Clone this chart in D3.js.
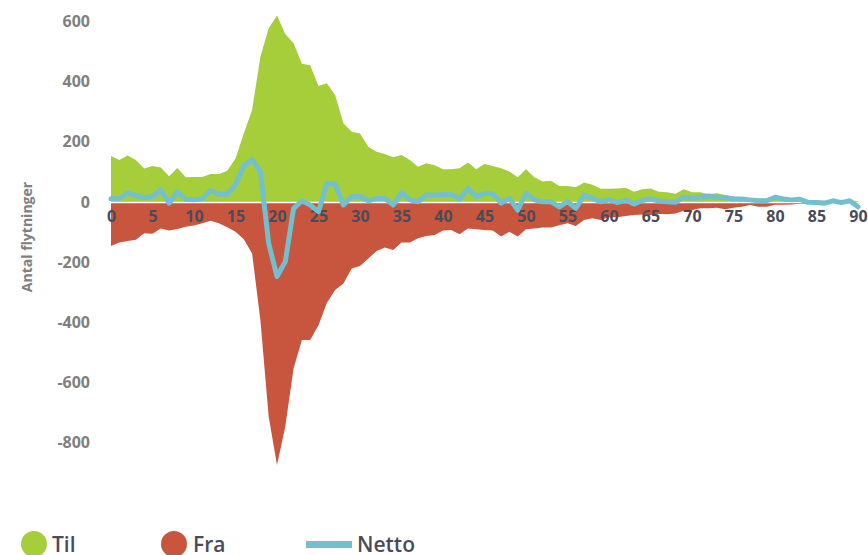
<!DOCTYPE html>
<html>
<head>
<meta charset="utf-8">
<script src="https://cdn.jsdelivr.net/npm/d3@7"></script>
<style>
  html, body { margin: 0; padding: 0; background: #ffffff; }
  svg { display: block; }
  text { font-family: "Open Sans", "Noto Sans", sans-serif; }
</style>
</head>
<body>
<svg id="chart" width="868" height="555"></svg>
<script>
const ages = d3.range(0, 91);
const til = [153,140,155,140,111,120,115,86,113,82,83,83,93,93,104,145,228,306,483,578,620,559,528,460,455,386,395,356,262,234,228,184,167,160,149,156,140,117,129,122,109,109,112,131,109,126,120,112,101,82,109,82,68,71,53,53,49,65,57,44,44,45,47,34,42,45,34,32,27,42,32,32,26,29,23,18,16,12,12,10,14,10,10,12,6,5,4,6,4,6,3];
const fra = [-146,-135,-130,-126,-104,-106,-88,-95,-90,-82,-78,-71,-62,-71,-84,-99,-124,-171,-393,-714,-875,-747,-553,-459,-459,-410,-336,-293,-271,-221,-213,-188,-163,-151,-160,-135,-135,-121,-113,-110,-95,-93,-107,-88,-91,-93,-95,-115,-99,-115,-91,-88,-85,-85,-77,-71,-80,-60,-54,-60,-51,-51,-47,-43,-42,-43,-40,-41,-38,-29,-27,-21,-21,-19,-24,-19,-16,-10,-16,-16,-9,-9,-8,-6,-6,-5,-5,-3,-4,-3,-4];
const netto = [11,11,31,21,14,18,40,-4,34,9,7,11,38,26,26,57,121,140,101,-138,-248,-198,-21,4,-10,-32,62,60,-10,18,18,4,12,12,-10,31,7,1,23,23,25,25,10,45,18,29,27,-4,12,-27,29,7,1,1,-16,1,-21,23,12,1,7,-2,7,-7,5,10,3,1,-1,16,12,16,20,16,14,10,10,7,4,4,16,10,7,9,-1,-2,-4,4,-2,4,-16];
const xTicks = d3.range(0, 91, 5);
const yTicks = [600, 400, 200, 0, -200, -400, -600, -800];
const seriesNames = ["Til", "Fra", "Netto"];
const colors = { Til: "#a6cd3a", Fra: "#c8553e", Netto: "#72bfce" };

const svg = d3.select("#chart");
const x = d3.scaleLinear().domain([0, 90]).range([111, 858]);
const y = d3.scaleLinear().domain([-800, 600]).range([442.5, 21.6]);

// areas
const area = d3.area().x((d, i) => x(ages[i])).y0(y(0)).y1(d => y(d));
svg.append("path").datum(til).attr("d", area).attr("fill", colors.Til);
svg.append("path").datum(fra).attr("d", area).attr("fill", colors.Fra);

// white zero line
svg.append("line")
  .attr("x1", x(0)).attr("x2", x(90))
  .attr("y1", y(0) + 0.5).attr("y2", y(0) + 0.5)
  .attr("stroke", "#ffffff").attr("stroke-width", 1.5);

// x axis tick labels
const xAxis = d3.axisBottom(x).tickValues(xTicks).tickSize(0).tickPadding(0);
const gx = svg.append("g").attr("transform", `translate(0,${y(0) + 15})`).call(xAxis);
gx.select(".domain").remove();
gx.selectAll("text")
  .attr("dy", "0.32em")
  .attr("font-family", "'Open Sans', sans-serif")
  .attr("font-size", 16).attr("font-weight", 700).attr("fill", "#4b4b58");

// netto line
const line = d3.line().x((d, i) => x(ages[i])).y(d => y(d));
svg.append("path").datum(netto).attr("d", line)
  .attr("fill", "none").attr("stroke", colors.Netto)
  .attr("stroke-width", 5).attr("stroke-linejoin", "round").attr("stroke-linecap", "round");

// y axis tick labels
const yAxis = d3.axisLeft(y).tickValues(yTicks).tickSize(0).tickPadding(0).tickFormat(d => String(d));
const gy = svg.append("g").attr("transform", "translate(90,0)").call(yAxis);
gy.select(".domain").remove();
gy.selectAll("text")
  .attr("font-family", "'Open Sans', sans-serif")
  .attr("font-size", 16).attr("font-weight", 700).attr("fill", "#808080");

// y axis title
svg.append("text")
  .attr("transform", "translate(32,237) rotate(-90)")
  .attr("text-anchor", "middle")
  .attr("font-size", 14).attr("font-weight", 700).attr("fill", "#808080")
  .text("Antal flytninger");

// legend
const lg = svg.append("g");
lg.append("circle").attr("cx", 34).attr("cy", 544).attr("r", 13).attr("fill", colors.Til);
lg.append("text").attr("x", 52).attr("y", 552).text(seriesNames[0]);
lg.append("circle").attr("cx", 174).attr("cy", 544).attr("r", 13).attr("fill", colors.Fra);
lg.append("text").attr("x", 193).attr("y", 552).text(seriesNames[1]);
lg.append("rect").attr("x", 306).attr("y", 541).attr("width", 46).attr("height", 7).attr("fill", colors.Netto);
lg.append("text").attr("x", 357).attr("y", 552).text(seriesNames[2]);
lg.selectAll("text").attr("font-size", 21).attr("font-weight", 600).attr("fill", "#4b4b58");
</script>
</body>
</html>
